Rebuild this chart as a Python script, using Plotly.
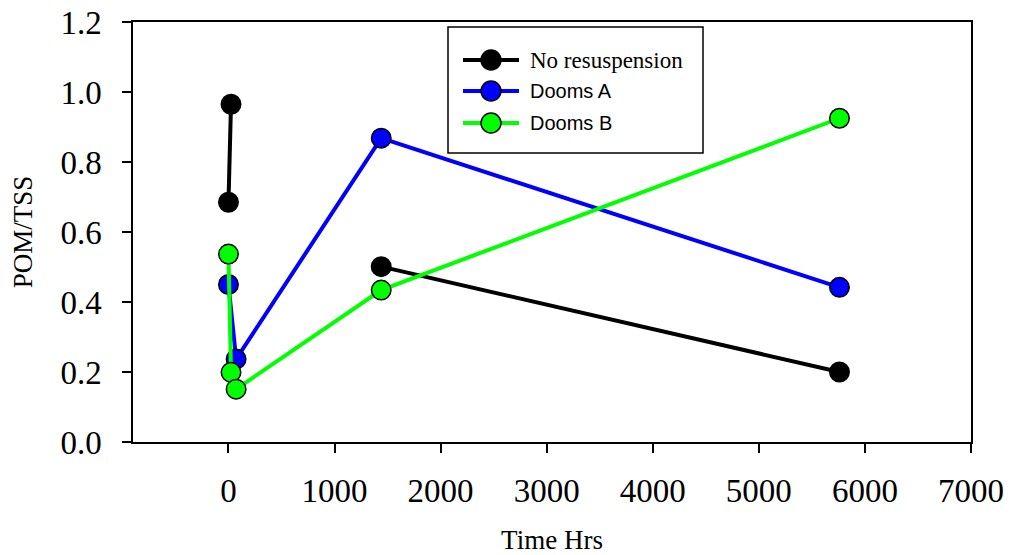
import plotly.graph_objects as go

# ---- data ----
time_none = [0, 24, 72, 1440, 5760]
pom_none = [0.685, 0.965, None, 0.501, 0.200]

time_a = [0, 72, 1440, 5760]
pom_a = [0.450, 0.237, 0.868, 0.442]

time_b = [0, 24, 72, 1440, 5760]
pom_b = [0.537, 0.199, 0.151, 0.434, 0.925]

series_names = ["No resuspension", "Dooms A", "Dooms B"]
series_colors = ["#000000", "#0000FF", "#00FF00"]

x_ticks = [0, 1000, 2000, 3000, 4000, 5000, 6000, 7000]
y_ticks = [0.0, 0.2, 0.4, 0.6, 0.8, 1.0, 1.2]

SERIF = "Liberation Serif, Times New Roman, serif"
SANS = "Liberation Sans, Arial, sans-serif"

W, H = 1010, 555
ML, MR, MT, MB = 133, 39, 22, 113
PW, PH = W - ML - MR, H - MT - MB


def pxx(x):
    return (x - ML) / PW


def pxy(y):
    return (H - MB - y) / PH


fig = go.Figure()
for xs, ys, name, col in [
    (time_none, pom_none, series_names[0], series_colors[0]),
    (time_a, pom_a, series_names[1], series_colors[1]),
    (time_b, pom_b, series_names[2], series_colors[2]),
]:
    fig.add_trace(go.Scatter(
        x=xs, y=ys, name=name, mode="lines+markers",
        line=dict(color=col, width=4),
        marker=dict(size=19.5, color=col, line=dict(color="#000000", width=1.5)),
        connectgaps=False, showlegend=False, cliponaxis=False,
    ))

axis_common = dict(
    showline=True, linewidth=1.5, linecolor="#000000", mirror=True,
    ticks="outside", ticklen=9, tickwidth=1.5, tickcolor="#000000",
    showgrid=False, zeroline=False, automargin=False,
    tickfont=dict(family=SERIF, size=33, color="#000000"),
)

fig.update_layout(
    width=W, height=H,
    margin=dict(l=ML, r=MR, t=MT, b=MB, autoexpand=False),
    paper_bgcolor="#FFFFFF", plot_bgcolor="#FFFFFF",
    xaxis=dict(range=[-900, 7000], tickvals=x_ticks, ticklabelstandoff=10,
               title=dict(text="Time Hrs", font=dict(family=SERIF, size=27, color="#000000"), standoff=26),
               **axis_common),
    yaxis=dict(range=[0, 1.2], tickvals=y_ticks, tickformat=".1f", ticklabelstandoff=14,
               title=dict(text="POM/TSS", font=dict(family=SERIF, size=27, color="#000000"), standoff=20),
               **axis_common),
)

# ---- legend box drawn to match the reference ----
shapes = [dict(type="rect", xref="paper", yref="paper",
               x0=pxx(448), x1=pxx(703), y0=pxy(153), y1=pxy(27),
               line=dict(color="#000000", width=1.5), fillcolor="#FFFFFF", layer="above")]
annotations = []
rows_y = [60, 91, 123]
fonts = [dict(family=SERIF, size=23, color="#000000"),
         dict(family=SANS, size=20, color="#000000"),
         dict(family=SANS, size=20, color="#000000")]
for ry, name, col, fnt in zip(rows_y, series_names, series_colors, fonts):
    shapes.append(dict(type="line", xref="paper", yref="paper",
                       x0=pxx(463), x1=pxx(519), y0=pxy(ry), y1=pxy(ry),
                       line=dict(color=col, width=4), layer="above"))
    shapes.append(dict(type="circle", xref="paper", yref="paper",
                       xsizemode="pixel", ysizemode="pixel",
                       xanchor=pxx(491), yanchor=pxy(ry),
                       x0=-10, x1=10, y0=-10, y1=10,
                       fillcolor=col, line=dict(color="#000000", width=1.5), layer="above"))
    annotations.append(dict(xref="paper", yref="paper", x=pxx(528), y=pxy(ry),
                            xanchor="left", yanchor="middle", text=name,
                            showarrow=False, font=fnt))

fig.update_layout(shapes=shapes, annotations=annotations)

fig.write_html(
    "out.html",
    config={"displayModeBar": False},
    post_script="document.body.style.margin='0';document.body.style.padding='0';"
                "document.documentElement.style.overflow='hidden';",
)
